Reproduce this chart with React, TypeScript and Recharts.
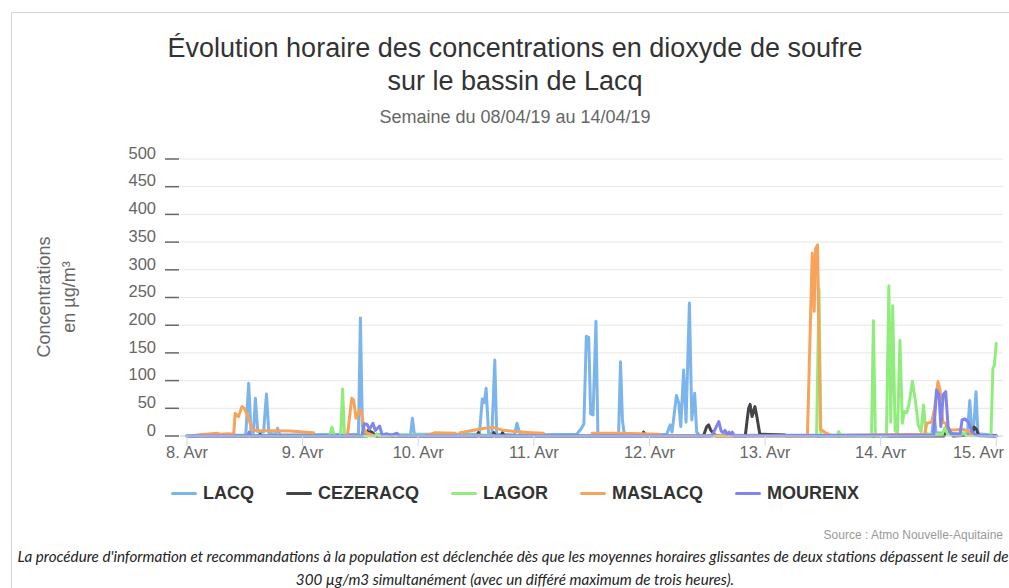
import { CartesianGrid, Line, LineChart, XAxis, YAxis } from "recharts";

// hours since 8 Apr 2019 00:00, µg/m³ (null = no measurement)
type Pt = [number, number | null];

const DAY_TICKS = [0, 24, 48, 72, 96, 120, 144, 168];
const DAY_LABELS = ["8. Avr", "9. Avr", "10. Avr", "11. Avr", "12. Avr", "13. Avr", "14. Avr", "15. Avr"];
const Y_TICKS = [0, 50, 100, 150, 200, 250, 300, 350, 400, 450, 500];

const LACQ: Pt[] = [
  [0, 1], [12.2, 2], [12.8, 95], [13.3, 8], [13.8, 6], [14.2, 68], [14.7, 8], [15.9, 7], [16.5, 76], [17.0, 5],
  [18.4, 3], [18.8, 14], [19.3, 2], [35.6, 3], [36.0, 213], [36.4, 20], [36.7, 3], [46.4, 2], [46.8, 32], [47.2, 3],
  [60.7, 3], [61.3, 67], [61.7, 60], [62.1, 86], [62.6, 5], [63.3, 4], [63.9, 137], [64.3, 3], [68.0, 2], [68.5, 23],
  [68.9, 10], [69.3, 2], [80.9, 3], [81.9, 14], [82.4, 22], [82.9, 180], [83.4, 178], [83.8, 40], [84.3, 38], [84.9, 207],
  [85.3, 3], [89.6, 2], [90.0, 134], [90.4, 28], [90.7, 8], [91.1, 2], [99.6, 3], [100.3, 20], [100.7, 7], [101.6, 73],
  [102.1, 59], [102.5, 17], [103.1, 119], [103.6, 25], [104.3, 240], [104.8, 29], [105.4, 77], [105.8, 7], [106.5, 1],
  [154.6, 2], [155.1, 40], [155.5, 6], [162.0, 3], [162.5, 64], [162.9, 12], [163.3, 14], [163.8, 80], [164.2, 4], [168, 1],
];

const CEZERACQ: Pt[] = [
  [0, 0], [14.8, 0], [15.2, 3], [15.6, 0], [37.3, 0], [37.6, 10], [38.5, 6], [39.2, 0], [60.2, 0], [60.5, 6], [60.9, 0],
  [63.4, 0], [63.7, 6], [64.1, 0], [65.2, 0], [65.5, 6], [65.9, 0], [94.5, 0], [94.8, 7], [95.4, 0], [107.2, 0],
  [107.9, 17], [108.3, 20], [108.7, 11], [109.3, 5], [109.8, 0], [115.9, 0], [116.3, 30], [116.6, 50], [116.9, 57],
  [117.3, 35], [117.9, 53], [118.3, 35], [118.9, 4], [119.2, 3], [124.0, 2], [124.4, 0], [157.2, 0], [157.7, 18],
  [158.7, 3], [159.1, 0], [163.0, 2], [163.4, 16], [163.9, 12], [164.3, 1], [168, 0],
];

const LAGOR: Pt[] = [
  [0, 1], [2, 0], [29.6, 0], [30.1, 16], [30.6, 0], [31.9, 0], [32.3, 85], [32.7, 0], [39.0, 0], [39.4, 4], [39.8, 1],
  [48, 2], [56, 1], [63, 2], [64, 0], [130.7, 0], [131.2, 265], [131.6, 0], [135.0, 0], [135.3, 8], [135.7, 0],
  [142.1, 0], [142.5, 208], [142.9, 0], [145.2, 0], [145.7, 271], [146.1, 25], [146.5, 235], [147.0, 10], [147.5, 5],
  [148.0, 173], [148.5, 23], [148.9, 44], [149.4, 42], [149.9, 58], [150.6, 99], [151.3, 58], [151.8, 20], [152.4, 8],
  [152.9, 56], [153.4, 5], [154.2, 3], [156.8, 3], [157.3, 15], [157.9, 3], [160.5, 2], [161.2, 6], [161.8, 1],
  [166.9, 0], [167.3, 122], [167.6, 128], [168, 167],
];

const MASLACQ: Pt[] = [
  [2.1, 2], [6.2, 5], [7.0, 3], [8.5, 4], [9.7, 3], [10.0, 41], [10.7, 35], [11.4, 53], [11.9, 50], [12.8, 32],
  [13.5, 11], [14.5, 10], [21.4, 9], [26.3, 6], [26.6, null], [33.3, 0], [34.2, 68], [34.6, 65], [35.1, 32],
  [35.8, 47], [36.2, 44], [36.8, 11], [37.4, 5], [38.7, 1], [39.0, null], [49.5, 1], [50.2, 2], [51.5, 6], [55.7, 5],
  [56.0, null], [56.7, 6], [60.6, 12], [63.3, 16], [65.4, 11], [68.2, 8], [71.6, 6], [74.0, 5], [74.3, null],
  [84.1, 5], [90, 5], [98, 3], [98.5, 0], [108.5, 0], [109, 2], [109.6, 0], [128.8, 0], [129.8, 330], [130.2, 225],
  [130.5, 338], [130.9, 345], [131.5, 12], [132.7, 5], [133.7, 1], [153.1, 3], [153.6, 23], [154.6, 25], [155.2, 50],
  [155.9, 98], [156.3, 85], [156.9, 25], [157.6, 22], [158.1, 11], [159.2, 11], [161.2, 12], [162.3, 8], [163.3, 3],
  [164.0, 1], [164.3, null],
];

const MOURENX: Pt[] = [
  [0, 0], [12.6, 0], [12.9, 7], [13.3, 0], [36.3, 0], [36.8, 22], [37.4, 21], [37.9, 12], [38.6, 23], [39.1, 10],
  [40.0, 18], [40.5, 2], [41.5, 4], [42.3, 1], [43.6, 5], [44.1, 0], [109.0, 0], [109.4, 8], [109.9, 17], [110.4, 26],
  [110.9, 9], [111.3, 6], [111.7, 10], [112.1, 3], [112.5, 7], [112.9, 2], [113.2, 7], [113.6, 0], [155.0, 2],
  [155.6, 83], [156.1, 75], [156.5, 17], [157.0, 75], [157.5, 80], [158.0, 17], [158.6, 4], [160.5, 3], [160.9, 29],
  [161.5, 31], [162.2, 25], [163.0, 7], [164.0, 1], [168, 0],
];

const SERIES = [
  { name: "LACQ", color: "#7cb5ec", points: LACQ },
  { name: "CEZERACQ", color: "#434348", points: CEZERACQ },
  { name: "LAGOR", color: "#90ed7d", points: LAGOR },
  { name: "MASLACQ", color: "#f7a35c", points: MASLACQ },
  { name: "MOURENX", color: "#8085e9", points: MOURENX },
];

const FONT = '"Liberation Sans", Arial, Helvetica, sans-serif';

function YTick({ y, payload }: any) {
  return (
    <g>
      <line x1={165} x2={179} y1={y} y2={y} stroke="#666" strokeWidth={1.5} />
      <text x={156} y={y - 6} dy="0.35em" textAnchor="end" fill="#666" fontSize={16.5} fontFamily={FONT}>
        {payload.value}
      </text>
    </g>
  );
}

function XTick({ x, payload }: any) {
  const i = DAY_TICKS.indexOf(payload.value);
  const last = i === DAY_TICKS.length - 1;
  return (
    <text
      x={last ? 1004 : x}
      y={458}
      textAnchor={last ? "end" : "middle"}
      fill="#666"
      fontSize={16.5}
      fontFamily={FONT}
    >
      {DAY_LABELS[i]}
    </text>
  );
}

export default function App() {
  return (
    <div
      style={{
        position: "fixed",
        left: 0,
        top: 0,
        width: 1009,
        height: 588,
        overflow: "hidden",
        background: "#fff",
      }}
    >
      <div
        style={{
          position: "absolute",
          left: 11,
          top: 12,
          width: 1100,
          height: 700,
          borderLeft: "1px solid #d4d4d4",
          borderTop: "1px solid #d4d4d4",
        }}
      />
      <div style={{ position: "absolute", left: 0, top: 0 }}>
        <LineChart width={1009} height={588} margin={{ top: 159, right: 6, bottom: 122, left: 30 }}>
          <CartesianGrid vertical={false} stroke="#e6e6e6" />
          <XAxis
            type="number"
            dataKey="t"
            domain={[-1.45, 169.4]}
            ticks={DAY_TICKS}
            interval={0}
            allowDataOverflow
            height={30}
            tickSize={10}
            axisLine={{ stroke: "#ccd6eb" }}
            tickLine={{ stroke: "#ccd6eb" }}
            tick={<XTick />}
          />
          <YAxis
            type="number"
            domain={[0, 500]}
            ticks={Y_TICKS}
            interval={0}
            width={150}
            axisLine={false}
            tickLine={false}
            tick={<YTick />}
          />
          {SERIES.map((s) => (
            <Line
              key={s.name}
              type="linear"
              data={s.points.map(([t, v]) => ({ t, v }))}
              dataKey="v"
              name={s.name}
              stroke={s.color}
              strokeWidth={3}
              strokeLinejoin="round"
              strokeLinecap="round"
              dot={false}
              activeDot={false}
              isAnimationActive={false}
            />
          ))}
        </LineChart>
      </div>
      <svg
        width={1009}
        height={588}
        style={{ position: "absolute", left: 0, top: 0, pointerEvents: "none" }}
        fontFamily={FONT}
      >
        <text x={515} y={57} textAnchor="middle" fontSize={27} fill="#333">
          Évolution horaire des concentrations en dioxyde de soufre
        </text>
        <text x={515} y={90} textAnchor="middle" fontSize={27} fill="#333">
          sur le bassin de Lacq
        </text>
        <text x={515} y={123} textAnchor="middle" fontSize={18} fill="#666">
          Semaine du 08/04/19 au 14/04/19
        </text>
        <g fontSize={18} fill="#666" textAnchor="middle" dominantBaseline="central">
          <text x={44} y={297} transform="rotate(-90 44 297)">Concentrations</text>
          <text x={69} y={297} transform="rotate(-90 69 297)">en µg/m³</text>
        </g>
        <text x={1003} y={539} textAnchor="end" fontSize={12} fill="#999">
          Source : Atmo Nouvelle-Aquitaine
        </text>
        <g fontFamily="Lato, sans-serif" fontStyle="italic" fontSize={15.2} fill="#222" textAnchor="middle">
          <text x={513} y={562}>
            La procédure d'information et recommandations à la population est déclenchée dès que les moyennes horaires glissantes de deux stations dépassent le seuil de
          </text>
          <text x={515} y={585}>300 µg/m3 simultanément (avec un différé maximum de trois heures).</text>
        </g>
      </svg>
      <div
        style={{
          position: "absolute",
          left: 0,
          top: 481,
          width: 1030,
          display: "flex",
          justifyContent: "center",
          gap: 32,
          fontFamily: FONT,
          fontWeight: "bold",
          fontSize: 18,
          color: "#333",
          lineHeight: "24px",
        }}
      >
        {SERIES.map((s) => (
          <div key={s.name} style={{ display: "flex", alignItems: "center", gap: 6 }}>
            <span style={{ display: "inline-block", width: 26, height: 3, borderRadius: 2, background: s.color }} />
            <span>{s.name}</span>
          </div>
        ))}
      </div>
    </div>
  );
}
